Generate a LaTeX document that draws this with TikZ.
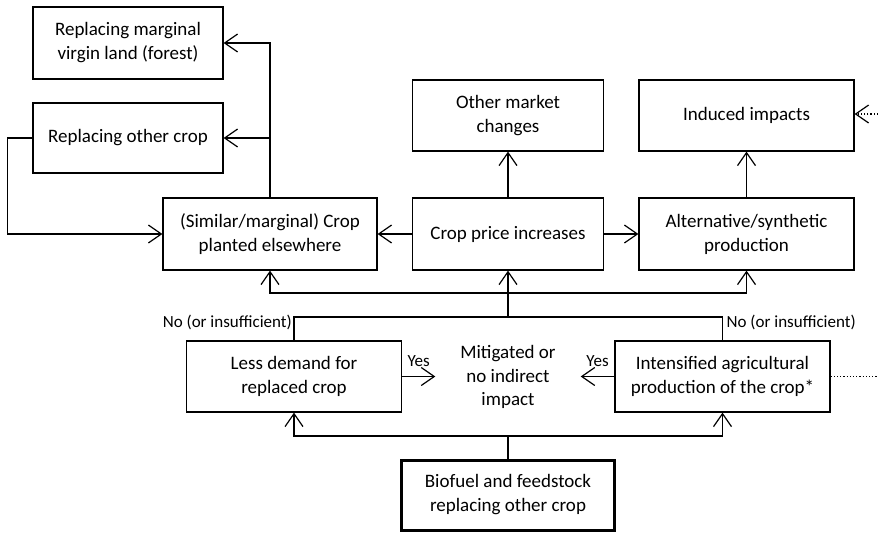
\documentclass[tikz,border=0pt]{standalone}
\usepackage{fontspec}
\setmainfont{Carlito}
\usetikzlibrary{arrows.meta,calc}
\begin{document}
\begin{tikzpicture}[x=1pt,y=-1pt,
  box/.style={draw, line width=1.2pt, align=center, inner sep=2pt,
    font=\fontsize{19}{24}\selectfont},
  lbl/.style={font=\fontsize{17}{20}\selectfont, inner sep=0pt},
  arr/.style={-{Straight Barb[length=13pt,width=18pt,line width=1.2pt]}},
  ln/.style={line width=1.2pt}]
\useasboundingbox (0,0) rectangle (878,533);
\node[box, minimum width=190pt, minimum height=72pt] (forest) at (128,43) {Replacing marginal\\virgin land (forest)};
\node[box, minimum width=190pt, minimum height=70pt] (other) at (128,138) {Replacing other crop};
\node[box, minimum width=214pt, minimum height=72pt] (planted) at (270,234) {(Similar/marginal) Crop\\planted elsewhere};
\node[box, minimum width=191pt, minimum height=72pt] (price) at (508,234) {Crop price increases};
\node[box, minimum width=191pt, minimum height=71pt] (market) at (508,115.5) {Other market\\changes};
\node[box, minimum width=215pt, minimum height=71pt] (induced) at (746.5,115.5) {Induced impacts};
\node[box, minimum width=215pt, minimum height=72pt] (alt) at (746.5,234) {Alternative/synthetic\\production};
\node[box, minimum width=215pt, minimum height=71pt] (less) at (294,376.5) {Less demand for\\replaced crop};
\node[box, minimum width=215pt, minimum height=71pt] (intens) at (722.5,376.5) {Intensified agricultural\\production of the crop*};
\node[box, line width=3pt, minimum width=213pt, minimum height=70pt] (bio) at (508,495) {Biofuel and feedstock\\replacing other crop};
\node[align=center, inner sep=0pt, minimum width=145pt, font=\fontsize{19}{23.5}\selectfont] (mitig) at (508,377) {Mitigated or\\no indirect\\impact};

\coordinate (indin) at (878,114);
\coordinate (intout) at (878,376.5);
\coordinate (bj) at (508,436);
\coordinate (cj) at (508,317);
\coordinate (tj) at (508,293);

% top-left
\draw[ln,arr] (planted.north) |- (forest.east);
\draw[ln,arr] (planted.north |- other.east) -- (other.east);
\draw[ln,arr] (other.west) -- ++(-25,0) |- (planted.west);
% middle row
\draw[ln,arr] (price.west) -- (planted.east);
\draw[ln,arr] (price.east) -- (alt.west);
\draw[ln,arr] (price.north) -- (market.south);
\draw[ln,arr] (alt.north) -- (induced.south);
\draw[ln,arr,dotted] (indin) -- (induced.east |- indin);
% bottom
\draw[ln] (bio.north) -- (bj);
\draw[ln,arr] (bj) -| (less.south);
\draw[ln,arr] (bj) -| (intens.south);
\draw[ln] (less.north) |- (cj) -| (intens.north);
\draw[ln] (cj) -- (tj);
\draw[ln,arr] (tj) -| (planted.south);
\draw[ln,arr] (tj) -- (price.south);
\draw[ln,arr] (tj) -| (alt.south);
\draw[ln,dotted] (intens.east) -- (intout);
\draw[ln,arr] (less.east) -- (less.east -| mitig.west) node[midway, above, lbl, yshift=9pt] {Yes};
\draw[ln,arr] (intens.west) -- (intens.west -| mitig.east) node[midway, above, lbl, yshift=9pt] {Yes};
\node[lbl, anchor=east] (nol) at ([xshift=-2pt,yshift=18pt]less.north) {No (or insufficient)};
\node[lbl, anchor=west] (nor) at ([xshift=4pt,yshift=18pt]intens.north) {No (or insufficient)};
\end{tikzpicture}
\end{document}
